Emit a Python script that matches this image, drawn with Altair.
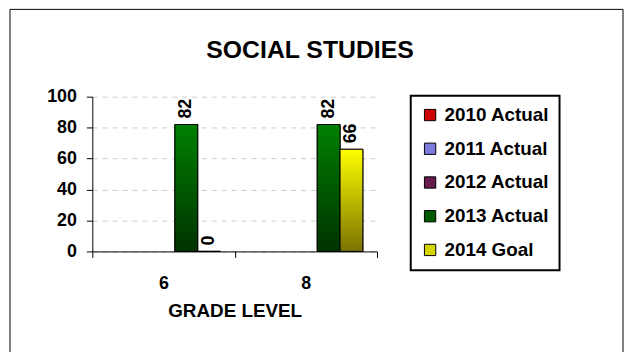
import altair as alt
import pandas as pd

# ---- data ----
grades = ["6", "8"]
series = ["2010 Actual", "2011 Actual", "2012 Actual", "2013 Actual", "2014 Goal"]
values_2010 = [None, None]
values_2011 = [None, None]
values_2012 = [None, None]
values_2013 = [82, 82]
values_2014 = [0, 66]
y_ticks = [0, 20, 40, 60, 80, 100]
legend_colors = ["#CC0000", "#7B7BDB", "#661A4D", "#005A00", "#D4D400"]

all_values = [values_2010, values_2011, values_2012, values_2013, values_2014]
rows = []
for s, vals in zip(series, all_values):
    for g, v in zip(grades, vals):
        if v is not None:
            rows.append({"grade": g, "series": s, "value": v})
df = pd.DataFrame(rows)

FONT = "Liberation Sans"

x_enc = alt.X(
    "grade:N",
    sort=grades,
    scale=alt.Scale(paddingInner=0, paddingOuter=0),
    axis=alt.Axis(
        title="GRADE LEVEL",
        labelAngle=0,
        tickBand="extent",
        tickSize=6,
        tickColor="black",
        domainColor="black",
        labelFont=FONT,
        labelFontSize=18,
        labelFontWeight="bold",
        labelColor="black",
        labelPadding=17,
        titleFont=FONT,
        titleFontSize=19,
        titleFontWeight="bold",
        titleColor="black",
        titlePadding=10,
        grid=False,
    ),
)
xoff_enc = alt.XOffset(
    "series:N", sort=series,
    scale=alt.Scale(domain=series, paddingInner=0, paddingOuter=0.62),
)
y_enc = alt.Y(
    "value:Q",
    scale=alt.Scale(domain=[0, 100], nice=False),
    axis=alt.Axis(
        title=None,
        values=y_ticks,
        tickSize=6,
        tickColor="black",
        domainColor="black",
        labelFont=FONT,
        labelFontSize=18,
        labelFontWeight="bold",
        labelColor="black",
        labelPadding=10,
        grid=True,
        gridColor="#cccccc",
        gridDash=[5, 5],
        gridWidth=1,
    ),
)

base = alt.Chart(df)

legend_bars = base.mark_bar(stroke="black", strokeWidth=1).encode(
    x=x_enc,
    xOffset=xoff_enc,
    y=y_enc,
    color=alt.Color(
        "series:N",
        scale=alt.Scale(domain=series, range=legend_colors),
        legend=alt.Legend(
            title=None,
            orient="none",
            legendX=321,
            legendY=-1,
            strokeColor="black",
            padding=10,
            labelFont=FONT,
            labelFontSize=19,
            labelFontWeight="bold",
            labelColor="black",
            labelOffset=5,
            symbolType="square",
            symbolSize=130,
            symbolStrokeColor="black",
            symbolStrokeWidth=1,
            rowPadding=14,
        ),
    ),
)

green = alt.LinearGradient(
    gradient="linear",
    stops=[alt.GradientStop(offset=0, color="#008000"),
           alt.GradientStop(offset=1, color="#003300")],
    x1=0, x2=0, y1=0, y2=1,
)
yellow = alt.LinearGradient(
    gradient="linear",
    stops=[alt.GradientStop(offset=0, color="#FFFF00"),
           alt.GradientStop(offset=1, color="#7A7200")],
    x1=0, x2=0, y1=0, y2=1,
)

bars_2013 = base.transform_filter(alt.datum.series == "2013 Actual").mark_bar(
    color=green, stroke="black", strokeWidth=1
).encode(x=x_enc, xOffset=xoff_enc, y=y_enc)

bars_2014 = base.transform_filter(alt.datum.series == "2014 Goal").mark_bar(
    color=yellow, stroke="black", strokeWidth=1
).encode(x=x_enc, xOffset=xoff_enc, y=y_enc)

labels = base.mark_text(
    angle=270, align="left", baseline="middle", dx=6,
    font=FONT, fontSize=18, fontWeight="bold", color="black",
).encode(x=x_enc, xOffset=xoff_enc, y=y_enc, text=alt.Text("value:Q"))

frame = alt.Chart(alt.Data(values=[{"f": 1}])).mark_rect(
    fillOpacity=0, stroke="black", strokeWidth=1
).encode(
    x=alt.value(-83), x2=alt.value(535), y=alt.value(-88), y2=alt.value(300)
)

chart = alt.layer(frame, legend_bars, bars_2013, bars_2014, labels).properties(
    width=287,
    height=156,
    padding={"left": 85, "top": 88, "right": 250, "bottom": 100},
    autosize=alt.AutoSizeParams(type="none"),
    title=alt.TitleParams(
        "SOCIAL STUDIES",
        font=FONT, fontSize=25, fontWeight="bold", color="black",
        anchor="middle", dx=76, dy=75, offset=0, baseline="alphabetic",
    ),
).configure_view(strokeWidth=0).configure_legend(strokeWidth=2)

chart.save("out.html", embed_options={"renderer": "svg", "actions": False})
